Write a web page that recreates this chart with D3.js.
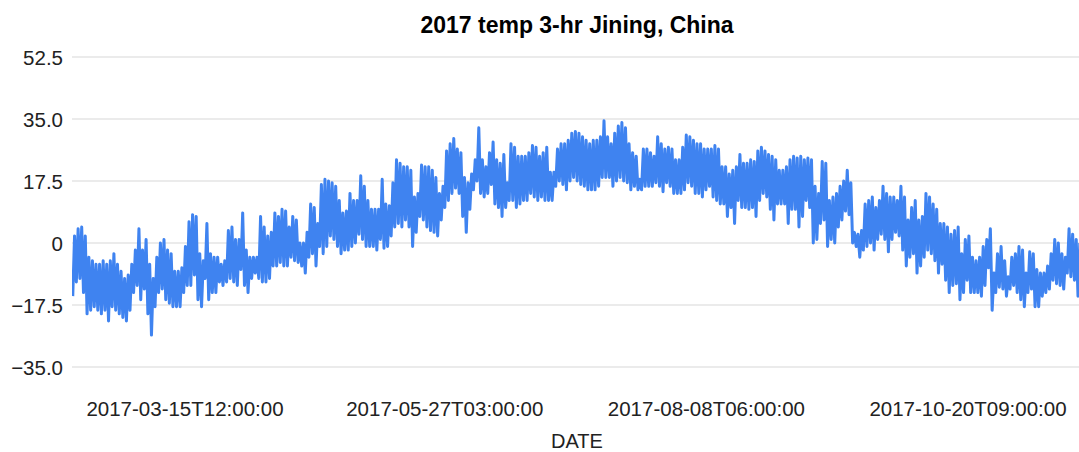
<!DOCTYPE html>
<html><head><meta charset="utf-8">
<script src="https://cdn.jsdelivr.net/npm/d3@7"></script>
<style>body{margin:0;background:#fff}svg{display:block}text{font-family:"Liberation Sans",Arial,sans-serif}</style>
</head><body>
<svg id="c" width="1079" height="452"></svg>
<script>
const chartTitle = "2017 temp 3-hr Jining, China";
const xAxisTitle = "DATE";
const startDate = "2017-02-12";
const xTickLabels = ["2017-03-15T12:00:00","2017-05-27T03:00:00","2017-08-08T06:00:00","2017-10-20T09:00:00"];
const yTicks = [-35, -17.5, 0, 17.5, 35, 52.5];
// daily low / high readings (°C), one pair per day from the start date
const dailyLow = [
-15,-11,-10,-14,-20,-19,-18,-19,-20,-19,-22,-18,-19,-20,-21,-22,-19,-14,-12,-16,
-13,-20,-26,-18,-14,-13,-16,-17,-18,-18,-18,-14,-12,-12,-9,-16,-18,-10,-16,-14,
-14,-11,-12,-11,-10,-11,-12,-7.5,-12,-14,-10,-8.5,-10,-11,-11,-10,-6.5,-6.5,-5.5,-6.5,
-6.5,-4,-5,-5.5,-6.5,-8.5,-4,-3,-6.5,-1,-3,-1,2,1,-1,-3,-2,-2,-1,0,
2.5,1,-1,-1,-1,-2,1,-1.5,-1,2,4.5,5.5,4.5,6.5,4.5,-1,3,7.5,6.5,4.5,
3.5,3,2,6.5,10,12,14,15.5,14,7.5,3,9.5,15,17.5,14,13,14,16.5,11,10,
7.5,10,12,12,10,11,12,12,14,13,12,13,12,12,12,16,17.5,16.5,15,17.5,
18.5,17.5,16.5,16,15,15,15,16,18.5,18.5,18.5,16,17.5,18.5,17.5,17,15,16,15,15,
16,16,16,17,16,14.5,17,16,14,14,14,15,17,16,14,14,13,15,16,13,
12,11,11,7.5,10,5.5,12,10,10,9.5,10,7.5,12,14,13,9.5,6.5,11,11,11,
5.5,9.5,9.5,4.5,7.5,12,10,0,1,5.5,6.5,-1,1,0,4.5,6.5,9,8,0,-1,
-4,-2,-1,0,-2,1,2.5,1,-2.5,1,3,2,-2,-6.5,-4,-3,-8.5,-6.5,-4,-2,
-3,-5,-8.5,-6,-10.5,-14,-12,-11.5,-16,-14,-10.5,-14,-14,-14,-15,-12,-7,-19,-14,-12.5,
-13,-15,-13,-12,-14,-16,-18,-14,-13,-18,-18,-15,-14,-13,-10.5,-11.5,-12,-13,-8.5,-9.5,
-10.5,-15
];
const dailyHigh = [
2,4,4.5,2,-4,-5,-6,-6,-5,-6,-5,-3,-6,-8,-10,-9,-6,-2,4,-2,
1,-6,-10,-4,0,1,-2,-3,-8,-8,-7,-1,6,8,7.5,-3,-5,5.5,-3,-4,
-4,-6,-5,3.5,4.5,1,1,8.5,-2,-4,-4,-4,7.5,4.5,2,3,8.5,7.5,9.5,9,
4.5,7.5,6.5,0,0,3,11,10,5.5,16.5,18,17.5,17,16,12,8.5,9,14,12,12,
19,16,12,9.5,9.5,9.5,18,11,10.5,17,23.5,22.5,21.5,21.5,20.5,13,14,22,21.5,21.5,
20.5,18.5,14,16,26,28,29.5,26.5,25.5,18.5,17,19.5,23.5,32.5,23.5,21.5,25.5,28.5,23.5,22.5,
25,17,28,27,24.5,24.5,24.5,25.5,27.5,27,24.5,25.5,27,20,20,26.5,28,28,29,31,
31.5,31,30,29,28,29,29,30,34.5,30,28,31,33,34,32.5,28,25.5,24.5,18,26.5,
26.5,25.5,24.5,30,28,26.5,27,26.5,23.5,23.5,27,30.5,30,29,28,28,26.5,26.5,26.5,27.5,
26.5,21.5,21.5,19.5,20.5,21.5,25,22.5,22.5,23.5,23,26,27,26,25,24.5,23.5,20.5,20.5,21.5,
23.5,24.5,24,24.5,23.5,24,23.5,16,14,23,22.5,12,13,14,16,17.5,20.5,17,3,2.5,
3.5,11,12,13,10,12,16,14,13,13,12,16,13,6.5,10,12,6.5,7.5,14,13,
11,9.5,5.5,5.5,4.5,2.5,3.5,4.5,-3,1,2,-4,-5,-4,-1,1,4,-8.5,-3,-1,
-5,-9.5,-4,-3,-1,-2,-8.5,-2.5,-3,-7.5,-8.5,-8.5,-6.5,-3,1,0,-3,-4,4,2.5,
1,0
];

const W = 1079, H = 452;
const svg = d3.select("#c");
const parseT = d3.utcParse("%Y-%m-%dT%H:%M:%S");
const x = d3.scaleUtc()
  .domain([parseT(xTickLabels[0]), parseT(xTickLabels[xTickLabels.length-1])])
  .range([185, 968]);
const y = d3.scaleLinear().domain([-35, 52.5]).range([367, 57]);
const plotLeft = 72, plotRight = 1079;

// series table built from the arrays
const start = d3.utcParse("%Y-%m-%d")(startDate);
const series = [];
dailyLow.forEach((lo, i) => {
  series.push({t: d3.utcHour.offset(start, i*24 + 3), v: lo});
  series.push({t: d3.utcHour.offset(start, i*24 + 15), v: dailyHigh[i]});
});

// gridlines
svg.append("g").selectAll("line").data(yTicks).join("line")
  .attr("x1", plotLeft).attr("x2", plotRight)
  .attr("y1", d => y(d)).attr("y2", d => y(d))
  .attr("stroke", "#e4e4e4").attr("stroke-width", 1.5);

// y labels
const fmt = d => d === 0 ? "0" : d3.format(".1f")(d);
svg.append("g").selectAll("text").data(yTicks).join("text")
  .attr("x", 63).attr("y", d => y(d) + 7.5)
  .attr("text-anchor", "end").attr("font-size", 20.5).attr("fill", "#222")
  .text(fmt);

// x labels
svg.append("g").selectAll("text").data(xTickLabels).join("text")
  .attr("x", d => x(parseT(d))).attr("y", 416)
  .attr("text-anchor", "middle").attr("font-size", 20.5).attr("fill", "#222")
  .text(d => d);

// clip
svg.append("clipPath").attr("id", "clip").append("rect")
  .attr("x", plotLeft).attr("y", 0).attr("width", plotRight - plotLeft).attr("height", H);

svg.append("path").datum(series)
  .attr("clip-path", "url(#clip)")
  .attr("fill", "none").attr("stroke", "#3f83f0").attr("stroke-width", 3)
  .attr("stroke-linejoin", "round")
  .attr("d", d3.line().x(d => x(d.t)).y(d => y(d.v)));

// titles
svg.append("text").attr("x", 577).attr("y", 33).attr("text-anchor", "middle")
  .attr("font-size", 23).attr("font-weight", "bold").attr("fill", "#000").text(chartTitle);
svg.append("text").attr("x", 577).attr("y", 448).attr("text-anchor", "middle")
  .attr("font-size", 20).attr("fill", "#222").text(xAxisTitle);
</script>
</body></html>
